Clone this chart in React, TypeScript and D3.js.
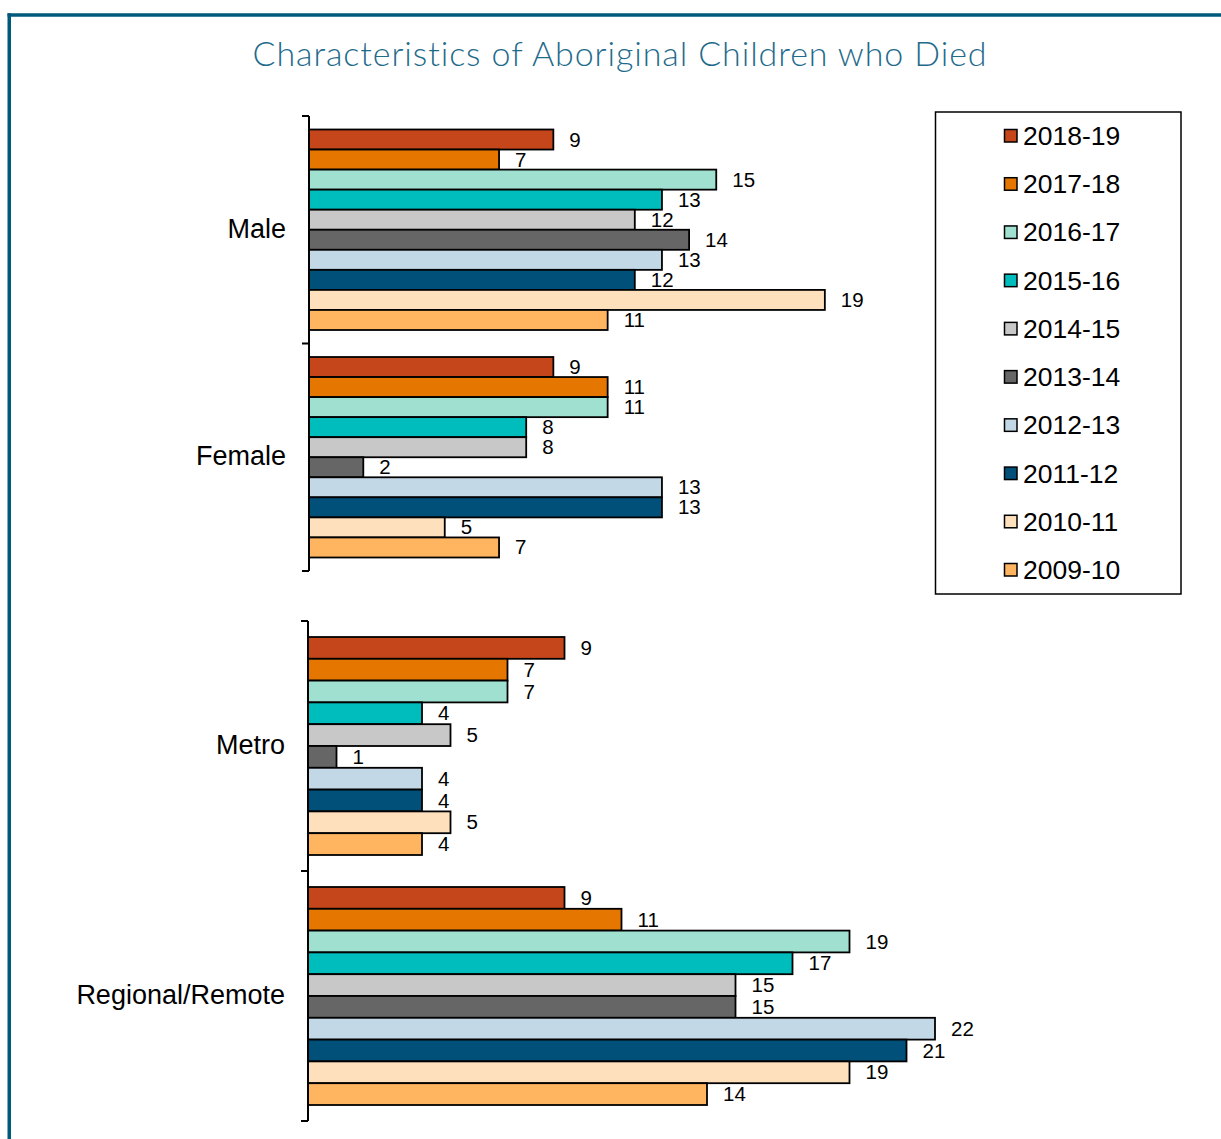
import React from "react";
import * as d3 from "d3";

const series = ["2018-19", "2017-18", "2016-17", "2015-16", "2014-15", "2013-14", "2012-13", "2011-12", "2010-11", "2009-10"];
const colors = ["#C4461A", "#E57600", "#A0E0D0", "#00BDBD", "#C8C8C8", "#666666", "#C2D8E6", "#00507A", "#FFE0BC", "#FFB45F"];

const sexCategories = ["Male", "Female"];
const maleValues = [9, 7, 15, 13, 12, 14, 13, 12, 19, 11];
const femaleValues = [9, 11, 11, 8, 8, 2, 13, 13, 5, 7];

const locCategories = ["Metro", "Regional/Remote"];
const metroValues = [9, 7, 7, 4, 5, 1, 4, 4, 5, 4];
const regionalValues = [9, 11, 19, 17, 15, 15, 22, 21, 19, 14];

const title = "Characteristics of Aboriginal Children who Died";

const FONT = "'Liberation Sans', Arial, sans-serif";

type PanelProps = {
  categories: string[];
  values: number[][];
  xRange: [number, number];
  xDomain: [number, number];
  yRange: [number, number];
  innerPad: number;
};

function Panel({ categories, values, xRange, xDomain, yRange, innerPad }: PanelProps) {
  const x = d3.scaleLinear().domain(xDomain).range(xRange);
  const y = d3.scaleBand<string>().domain(categories).range(yRange).paddingInner(0).paddingOuter(0);
  const inner = d3.scaleBand<string>().domain(series).range([innerPad, y.bandwidth() - innerPad]).padding(0);
  const x0 = x(0);
  const ticks = [yRange[0], ...categories.map((c) => (y(c) as number) + y.bandwidth())];
  return (
    <g>
      {categories.map((c, ci) => (
        <g key={c}>
          {series.map((s, si) => (
            <rect
              key={s}
              x={x0}
              y={(y(c) as number) + (inner(s) as number)}
              width={x(values[ci][si]) - x0}
              height={inner.bandwidth()}
              fill={colors[si]}
              stroke="#000"
              strokeWidth={1.8}
            />
          ))}
        </g>
      ))}
      {categories.map((c, ci) => (
        <g key={c + "-lab"}>
          {series.map((s, si) => {
            const v = values[ci][si];
            const cy = (y(c) as number) + (inner(s) as number) + inner.bandwidth() / 2;
            const tx = x(v) + 16;
            const w = String(v).length * 11.4;
            const bh = inner.bandwidth() - 4;
            return (
              <g key={s}>
                <rect x={tx - 2} y={cy - bh / 2} width={w + 4} height={bh} fill="#fff" />
                <text x={tx} y={cy - 0.5} dominantBaseline="central" fontSize={20.5} fontFamily={FONT} fill="#000">
                  {v}
                </text>
              </g>
            );
          })}
        </g>
      ))}
      <line x1={x0} x2={x0} y1={yRange[0]} y2={yRange[1]} stroke="#000" strokeWidth={2} />
      {ticks.map((t, i) => (
        <line key={i} x1={x0 - 7} x2={x0} y1={t} y2={t} stroke="#000" strokeWidth={2} />
      ))}
      {categories.map((c) => (
        <text
          key={c + "-cat"}
          x={x0 - 23}
          y={(y(c) as number) + y.bandwidth() / 2 - 1}
          textAnchor="end"
          dominantBaseline="central"
          fontSize={27}
          fontFamily={FONT}
          fill="#000"
        >
          {c}
        </text>
      ))}
    </g>
  );
}

export default function App() {
  const legendY = d3.scalePoint<string>().domain(series).range([136, 570]);
  return (
    <svg
      width={1221}
      height={1139}
      style={{ position: "absolute", left: 0, top: 0, background: "#fff" }}
    >
      <rect x={0} y={0} width={1221} height={1139} fill="#fff" />
      <line x1={7.5} x2={1221} y1={15} y2={15} stroke="#00587A" strokeWidth={3.5} />
      <line x1={9.25} x2={9.25} y1={13.3} y2={1139} stroke="#00587A" strokeWidth={3.5} />
      <text
        x={620}
        y={65.5}
        textAnchor="middle"
        fontSize={34}
        fontWeight={300}
        letterSpacing={0.9}
        fontFamily="Lato, 'Open Sans', sans-serif"
        fill="#1F6B8C"
      >
        {title}
      </text>
      <Panel
        categories={sexCategories}
        values={[maleValues, femaleValues]}
        xDomain={[0, 20]}
        xRange={[309, 309 + 20 * 27.15]}
        yRange={[116, 571]}
        innerPad={13.5}
      />
      <Panel
        categories={locCategories}
        values={[metroValues, regionalValues]}
        xDomain={[0, 22]}
        xRange={[308, 935]}
        yRange={[621, 1121]}
        innerPad={16}
      />
      <rect x={935.5} y={112} width={245.5} height={482} fill="#fff" stroke="#000" strokeWidth={1.5} />
      {series.map((s, i) => (
        <g key={s}>
          <rect x={1004.5} y={(legendY(s) as number) - 6.5} width={12.5} height={12.5} fill={colors[i]} stroke="#000" strokeWidth={1.5} />
          <text x={1023} y={legendY(s) as number} dominantBaseline="central" fontSize={26.5} fontFamily={FONT} fill="#000">
            {s}
          </text>
        </g>
      ))}
    </svg>
  );
}
